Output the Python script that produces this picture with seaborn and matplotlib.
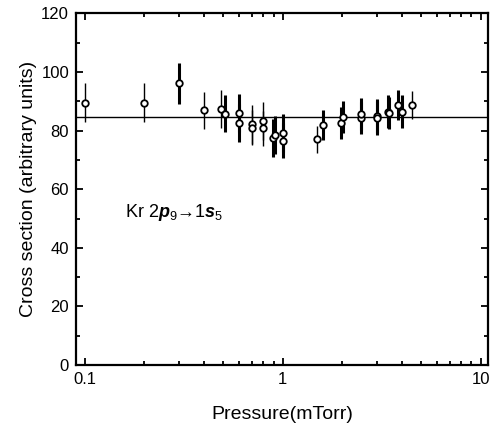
import matplotlib
matplotlib.use("Agg")
import matplotlib.pyplot as plt
from matplotlib.ticker import MultipleLocator, FixedLocator, NullFormatter
import numpy as np
import pandas as pd
import seaborn as sns

# --- data ---
pressure = [0.10, 0.20, 0.30, 0.40, 0.49, 0.51, 0.60, 0.60, 0.70, 0.70,
            0.80, 0.80, 0.89, 0.91, 1.00, 1.00, 1.50, 1.60, 1.98, 2.03,
            2.48, 2.50, 3.00, 3.00, 3.42, 3.45, 3.85, 4.00, 4.50]
cross_section = [89.5, 89.5, 96.2, 86.9, 87.4, 85.7, 86.1, 82.7, 82.1, 81.0,
                 83.3, 80.8, 77.6, 78.5, 79.3, 76.5, 77.0, 81.9, 82.7, 84.6,
                 84.2, 85.6, 85.0, 84.4, 86.5, 85.9, 88.7, 86.5, 88.7]
error = [6.7, 6.7, 7.0, 6.4, 6.5, 6.3, 6.5, 6.5, 6.5, 6.0,
         6.5, 6.0, 6.5, 6.5, 6.5, 6.0, 4.6, 5.0, 5.5, 5.5,
         5.5, 5.5, 5.8, 5.8, 5.5, 5.5, 5.0, 5.5, 4.8]
thick_bar = [False, False, True, False, False, True, True, True, False, False,
             False, False, True, True, True, True, False, True, True, True,
             True, True, True, True, True, True, True, True, False]
mean_level = 84.5

df = pd.DataFrame({"p": pressure, "cs": cross_section, "err": error, "thick": thick_bar})

sns.set_style("ticks", {"axes.edgecolor": "black", "text.color": "black",
                        "axes.labelcolor": "black", "xtick.color": "black",
                        "ytick.color": "black"})
plt.rcParams["font.family"] = ["Liberation Sans", "DejaVu Sans"]
plt.rcParams["mathtext.fontset"] = "custom"
plt.rcParams["mathtext.rm"] = "Liberation Sans"
plt.rcParams["mathtext.it"] = "Liberation Sans:italic"
plt.rcParams["mathtext.bf"] = "Liberation Sans:bold"
plt.rcParams["mathtext.bfit"] = "Liberation Sans:italic:bold"

fig = plt.figure(figsize=(5.03, 4.34), dpi=100)
ax = fig.add_axes([0.151, 0.159, 0.819, 0.810])

# horizontal reference line
ax.axhline(mean_level, color="black", lw=1.0, zorder=1)

# error bars, thin and thick groups
for is_thick, grp in df.groupby("thick"):
    ax.errorbar(grp["p"], grp["cs"], yerr=grp["err"], fmt="none",
                ecolor="black", elinewidth=2.2 if is_thick else 1.0,
                capsize=0, zorder=2)

sns.scatterplot(data=df, x="p", y="cs", ax=ax, marker="o", s=22,
                facecolor="white", edgecolor="black", linewidth=1.3,
                zorder=3, legend=False)

ax.set_xscale("log")
ax.set_xlim(0.0902, 10.9)
ax.set_ylim(0, 120)
ax.xaxis.set_major_locator(FixedLocator([0.1, 1, 10]))
ax.set_xticklabels(["0.1", "1", "10"])
ax.xaxis.set_minor_locator(FixedLocator(
    [k * 10.0 ** e for e in (-1, 0) for k in range(2, 10)]))
ax.xaxis.set_minor_formatter(NullFormatter())
ax.yaxis.set_major_locator(MultipleLocator(20))
ax.yaxis.set_minor_locator(MultipleLocator(10))

ax.tick_params(which="both", direction="in", top=True, right=True,
               width=1.3, labelsize=12, pad=5, colors="black")
ax.tick_params(which="major", length=5)
ax.tick_params(which="minor", length=3)
for s in ax.spines.values():
    s.set_linewidth(1.6)
    s.set_color("black")

ax.set_xlabel("Pressure(mTorr)", fontsize=14, labelpad=14, color="black")
ax.set_ylabel("Cross section (arbitrary units)", fontsize=14, labelpad=3,
              color="black")

ax.text(0.1595, 52, r"Kr 2$\mathbfit{p}_{9}$→1$\mathbfit{s}_{5}$",
        fontsize=13, ha="left", va="center", color="black")

fig.savefig("out.png", dpi=100)
